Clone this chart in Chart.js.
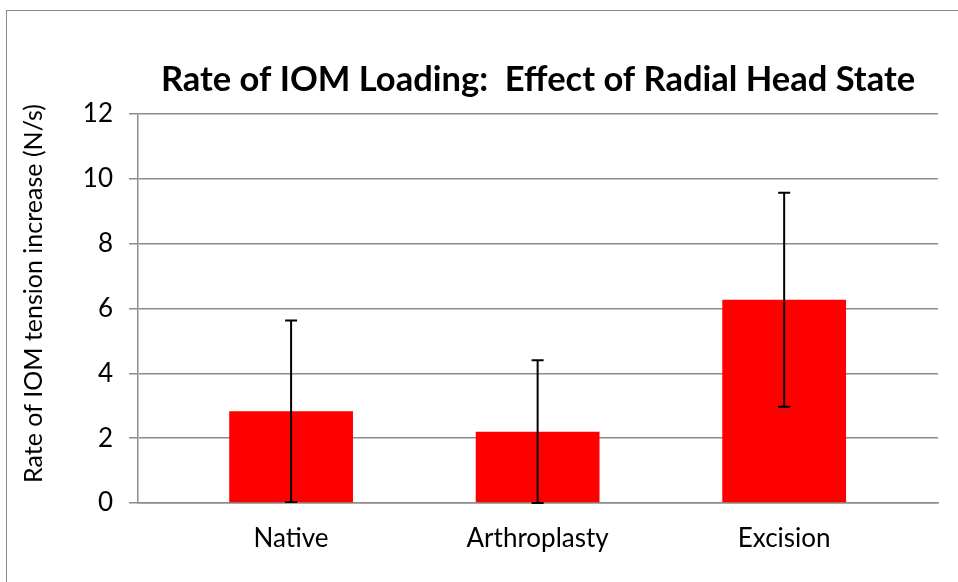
<!DOCTYPE html>
<html>
<head>
<meta charset="utf-8">
<script src="https://cdn.jsdelivr.net/npm/chart.js@4.4.1/dist/chart.umd.min.js"></script>
<style>
  html, body { margin: 0; padding: 0; background: #ffffff; overflow: hidden; }
  #wrap { position: relative; width: 958px; height: 582px; }
  #frame { position: absolute; left: 6px; top: 10px; width: 1200px; height: 900px; border: 1px solid #8a8a8a; box-sizing: border-box; }
  canvas { position: absolute; left: 0; top: 0; }
</style>
</head>
<body>
<div id="wrap">
  <div id="frame"></div>
  <canvas id="c" width="958" height="582"></canvas>
</div>
<script>
const chartTitle = 'Rate of IOM Loading:  Effect of Radial Head State';
const yAxisTitle = 'Rate of IOM tension increase (N/s)';
const categories = ['Native', 'Arthroplasty', 'Excision'];
const meanRate = [2.83, 2.20, 6.27];
const errorRate = [2.80, 2.20, 3.30];
const yTicks = [0, 2, 4, 6, 8, 10, 12];

const FONT = 'Lato, "Open Sans", sans-serif';
const GRID = '#8c8c8c';

const errorBarPlugin = {
  id: 'errorBars',
  afterDatasetsDraw(chart) {
    const ctx = chart.ctx;
    const xs = chart.scales.x, ys = chart.scales.y;
    ctx.save();
    ctx.strokeStyle = '#000000';
    ctx.lineWidth = 2;
    meanRate.forEach((m, i) => {
      const x = xs.getPixelForValue(i);
      const yHi = ys.getPixelForValue(m + errorRate[i]);
      const yLo = ys.getPixelForValue(Math.max(0, m - errorRate[i]));
      const cap = 6;
      ctx.beginPath();
      ctx.moveTo(x, yHi); ctx.lineTo(x, yLo);
      ctx.moveTo(x - cap, yHi); ctx.lineTo(x + cap, yHi);
      ctx.moveTo(x - cap, yLo); ctx.lineTo(x + cap, yLo);
      ctx.stroke();
    });
    ctx.restore();
  }
};

const yTitlePlugin = {
  id: 'yTitle',
  afterDraw(chart) {
    const ctx = chart.ctx;
    const a = chart.chartArea;
    ctx.save();
    ctx.fillStyle = '#000000';
    ctx.font = '25px ' + FONT;
    ctx.textAlign = 'center';
    ctx.textBaseline = 'middle';
    ctx.translate(34, (a.top + a.bottom) / 2 - 15);
    ctx.rotate(-Math.PI / 2);
    ctx.fillText(yAxisTitle, 0, 0);
    ctx.restore();
  }
};

new Chart(document.getElementById('c'), {
  type: 'bar',
  data: {
    datasets: [{
      data: meanRate.map((v, i) => ({ x: i, y: v })),
      backgroundColor: '#ff0000',
      borderWidth: 0,
      barPercentage: 1.0,
      categoryPercentage: 0.502
    }]
  },
  options: {
    responsive: false,
    animation: false,
    devicePixelRatio: 1,
    layout: { padding: { left: 0, right: 20, top: 0, bottom: 0 } },
    plugins: {
      legend: { display: false },
      tooltip: { enabled: false },
      title: {
        display: true,
        text: chartTitle,
        fullSize: false,
        color: '#000000',
        font: { family: FONT, size: 34.5, weight: 'bold' },
        padding: { top: 59, bottom: 13.6 }
      }
    },
    scales: {
      x: {
        type: 'linear',
        offset: false,
        min: -0.621,
        max: 2.624,
        afterBuildTicks: (s) => { s.ticks = categories.map((c, i) => ({ value: i })); },
        afterFit: (s) => { s.height = 79; },
        ticks: {
          autoSkip: false,
          maxRotation: 0,
          color: '#000000',
          padding: 20,
          font: { family: FONT, size: 26 },
          callback: (v) => categories[v] ?? ''
        },
        grid: { display: false, drawTicks: false },
        border: { display: true, color: GRID, width: 1.5 }
      },
      y: {
        min: 0,
        max: 12,
        afterBuildTicks: (s) => { s.ticks = yTicks.map(v => ({ value: v })); },
        afterFit: (s) => { s.width = 138; },
        ticks: {
          color: '#000000',
          padding: 16,
          font: { family: FONT, size: 26 }
        },
        grid: { color: GRID, lineWidth: 1.5, tickLength: 9 },
        border: { display: true, color: GRID, width: 1.5 }
      }
    }
  },
  plugins: [errorBarPlugin, yTitlePlugin]
});
</script>
</body>
</html>
